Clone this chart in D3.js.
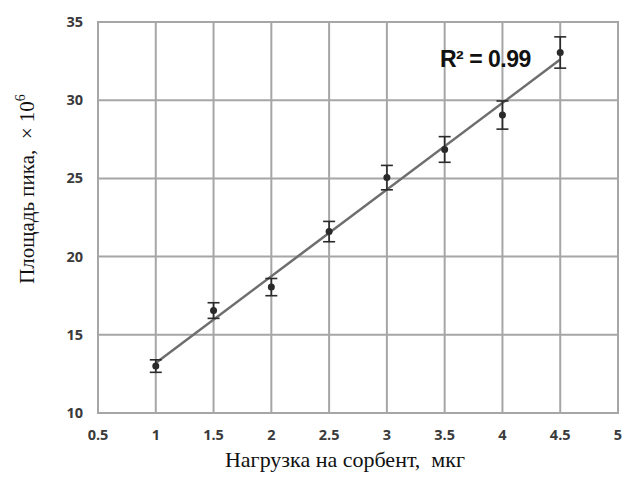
<!DOCTYPE html>
<html lang="ru">
<head>
    <meta charset="UTF-8">
    <title>Площадь пика</title>
    <style>
        body { margin: 0; background: #ffffff; }
        .grid line { stroke: #a6a6a6; stroke-width: 2px; }
        .tick-label { font-family: 'Open Sans', sans-serif; font-weight: 700; font-size: 14.5px; fill: #3a3a3a; }
        .axis-title { font-family: 'Liberation Serif', 'Times New Roman', serif; font-size: 21px; fill: #111; white-space: pre; }
    </style>
</head>
<body>
    <div id="chart"></div>

    <script src="https://d3js.org/d3.v7.min.js"></script>
    <script>
        const width = 622;
        const height = 479;
        const margin = { top: 22, right: 4, bottom: 66, left: 98 };

        // data
        const loads = [1, 1.5, 2, 2.5, 3, 3.5, 4, 4.5];
        const areas = [13.0, 16.55, 18.05, 21.6, 25.05, 26.85, 29.05, 33.05];
        const errors = [0.4, 0.5, 0.55, 0.65, 0.78, 0.82, 0.9, 1.0];
        const xTicks = [0.5, 1, 1.5, 2, 2.5, 3, 3.5, 4, 4.5, 5];
        const yTicks = [10, 15, 20, 25, 30, 35];
        const r2Label = 'R² = 0.99';

        const svg = d3.select('#chart')
            .append('svg')
            .attr('width', width)
            .attr('height', height);

        const x = d3.scaleLinear().domain([0.5, 5]).range([margin.left, width - margin.right]);
        const y = d3.scaleLinear().domain([10, 35]).range([height - margin.bottom, margin.top]);

        const grid = svg.append('g').attr('class', 'grid');
        grid.selectAll('.vx')
            .data(xTicks)
            .enter().append('line')
            .attr('x1', d => x(d)).attr('x2', d => x(d))
            .attr('y1', y(10)).attr('y2', y(35));
        grid.selectAll('.hy')
            .data(yTicks)
            .enter().append('line')
            .attr('x1', x(0.5) - 1).attr('x2', x(5) + 1)
            .attr('y1', d => y(d)).attr('y2', d => y(d));

        // tick labels
        svg.selectAll('.xt')
            .data(xTicks)
            .enter().append('text')
            .attr('class', 'tick-label')
            .attr('x', d => x(d))
            .attr('y', y(10) + 27)
            .attr('text-anchor', 'middle')
            .text(d => d);

        svg.selectAll('.yt')
            .data(yTicks)
            .enter().append('text')
            .attr('class', 'tick-label')
            .attr('x', x(0.5) - 15)
            .attr('y', d => y(d))
            .attr('dy', '0.35em')
            .attr('text-anchor', 'end')
            .text(d => d);

        // linear fit
        const pts = loads.map((v, i) => ({ x: v, y: areas[i], e: errors[i] }));
        const mx = d3.mean(loads), my = d3.mean(areas);
        const slope = d3.sum(pts, p => (p.x - mx) * (p.y - my)) / d3.sum(pts, p => (p.x - mx) ** 2);
        const icpt = my - slope * mx;
        const xs = d3.extent(loads);

        svg.append('line')
            .attr('x1', x(xs[0])).attr('y1', y(icpt + slope * xs[0]))
            .attr('x2', x(xs[1])).attr('y2', y(icpt + slope * xs[1]))
            .attr('stroke', '#6e6e6e')
            .attr('stroke-width', 2.5);

        // error bars
        const eb = svg.append('g')
            .attr('stroke', '#2a2a2a')
            .attr('stroke-width', 1.6);
        eb.selectAll('.v')
            .data(pts)
            .enter().append('line')
            .attr('x1', d => x(d.x)).attr('x2', d => x(d.x))
            .attr('y1', d => y(d.y + d.e)).attr('y2', d => y(d.y - d.e));
        eb.selectAll('.top')
            .data(pts)
            .enter().append('line')
            .attr('x1', d => x(d.x) - 6).attr('x2', d => x(d.x) + 6)
            .attr('y1', d => y(d.y + d.e)).attr('y2', d => y(d.y + d.e));
        eb.selectAll('.bot')
            .data(pts)
            .enter().append('line')
            .attr('x1', d => x(d.x) - 6).attr('x2', d => x(d.x) + 6)
            .attr('y1', d => y(d.y - d.e)).attr('y2', d => y(d.y - d.e));

        svg.selectAll('.pt')
            .data(pts)
            .enter().append('circle')
            .attr('cx', d => x(d.x))
            .attr('cy', d => y(d.y))
            .attr('r', 3.5)
            .attr('fill', '#2a2a2a');

        svg.append('text')
            .attr('x', 440)
            .attr('y', 67)
            .attr('font-family', 'Liberation Sans, Arial, sans-serif')
            .attr('font-weight', 700)
            .attr('font-size', 23)
            .attr('letter-spacing', -0.5)
            .attr('fill', '#111')
            .text(r2Label);

        // axis titles
        svg.append('text')
            .attr('class', 'axis-title')
            .attr('x', 345)
            .attr('y', 467)
            .style('font-size', '22px')
            .attr('text-anchor', 'middle')
            .text('Нагрузка на сорбент,  мкг');

        const yt = svg.append('text')
            .attr('class', 'axis-title')
            .attr('transform', 'translate(34,189) rotate(-90)')
            .attr('text-anchor', 'middle');
        yt.append('tspan').text('Площадь пика,  × 10');
        yt.append('tspan').attr('dy', -9).attr('font-size', 14).text('6');
    </script>
</body>
</html>
